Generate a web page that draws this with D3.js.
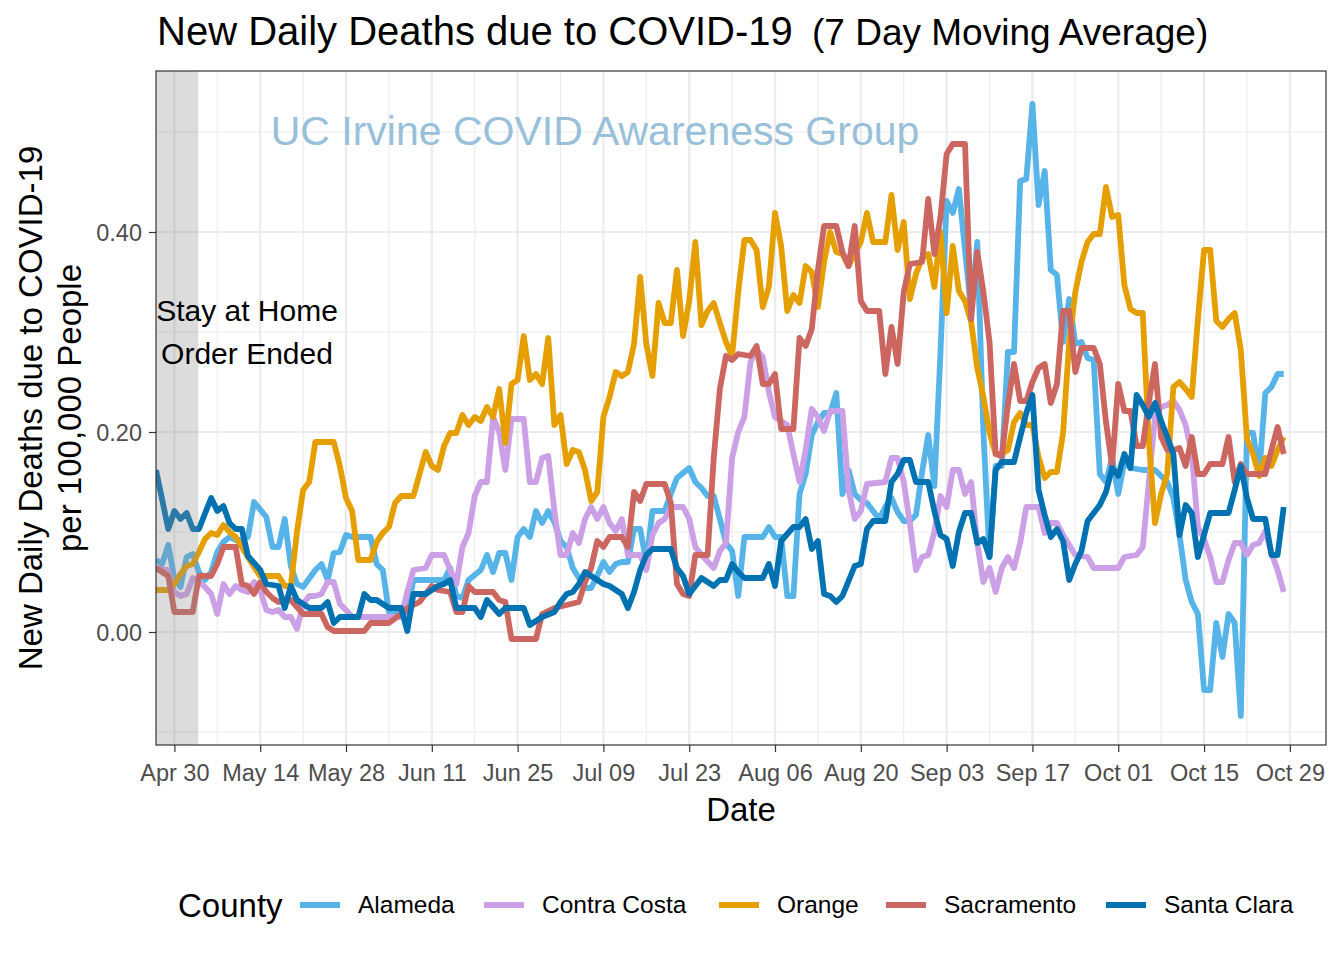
<!DOCTYPE html>
<html><head><meta charset="utf-8">
<script src="https://cdn.jsdelivr.net/npm/d3@7"></script>
<style>body{margin:0;background:#fff;} svg{display:block;font-family:"Liberation Sans",Arial,Helvetica,sans-serif;}</style>
</head><body><svg id="c" width="1344" height="960"></svg>
<script>
// ---------------- DATA ----------------
const baseDate = "2020-04-30"; // day offsets below are days from this date
const counties = ["Alameda","Contra Costa","Orange","Sacramento","Santa Clara"];
const countyColors = ["#56B4E9","#CBA0E6","#E69F00","#CC6660","#0072B2"];
const xTicks = ["2020-04-30","2020-05-14","2020-05-28","2020-06-11","2020-06-25","2020-07-09","2020-07-23",
  "2020-08-06","2020-08-20","2020-09-03","2020-09-17","2020-10-01","2020-10-15","2020-10-29"];
const yTicks = [0, 0.2, 0.4];
const yMinorTicks = [-0.1, 0.1, 0.3, 0.5];
const stayHomeEnd = 3.9; // day offset where the shaded period ends

const alameda = [[-3,.072],[-2,.068],[-1,.087],[0,.053],[1,.045],[2,.075],[3,.078],[4,.060],[5,.052],[6,.060],[7,.080],[8,.090],[9,.095],[10,.092],[11,.092],[12,.095],[13,.130],[15,.115],[16,.085],[17,.085],[18,.113],[19,.066],[20,.048],[21,.045],[23,.062],[24,.068],[25,.052],[26,.079],[27,.080],[28,.097],[29,.095],[30,.095],[32,.095],[33,.068],[34,.062],[35,.020],[37,.018],[38,.020],[39,.052],[44,.052],[45,.064],[46,.036],[47,.034],[48,.052],[50,.062],[51,.077],[52,.060],[53,.079],[54,.079],[55,.052],[56,.095],[57,.103],[58,.095],[59,.121],[60,.109],[61,.121],[62,.110],[63,.091],[64,.085],[65,.064],[67,.044],[68,.044],[69,.056],[70,.070],[71,.060],[72,.068],[73,.070],[74,.070],[75,.103],[76,.103],[77,.070],[78,.121],[80,.121],[81,.138],[82,.154],[84,.164],[85,.150],[86,.144],[87,.136],[88,.136],[89,.113],[90,.089],[91,.081],[92,.036],[93,.095],[96,.095],[97,.105],[98,.095],[99,.095],[100,.036],[101,.036],[102,.138],[103,.158],[104,.197],[105,.210],[106,.219],[107,.219],[108,.239],[109,.138],[110,.162],[111,.138],[112,.132],[113,.129],[115,.113],[116,.125],[117,.134],[118,.120],[119,.111],[120,.111],[121,.117],[122,.160],[123,.197],[124,.146],[125,.280],[126,.431],[127,.419],[128,.443],[129,.382],[130,.321],[131,.390],[132,.200],[133,.075],[134,.166],[135,.166],[136,.280],[137,.280],[138,.451],[139,.453],[140,.528],[141,.427],[142,.461],[143,.362],[144,.357],[145,.290],[146,.333],[147,.288],[148,.290],[149,.274],[150,.272],[151,.158],[152,.150],[153,.174],[154,.138],[155,.170],[156,.164],[158,.162],[160,.162],[162,.150],[163,.134],[164,.097],[165,.052],[166,.030],[167,.018],[168,-.058],[169,-.058],[170,.009],[171,-.025],[172,.018],[173,.009],[174,-.084],[175,.199],[176,.199],[177,.158],[178,.239],[179,.245],[180,.258],[181,.258]];

const contraCosta = [[-3,.064],[-1,.062],[0,.040],[1,.036],[2,.038],[3,.054],[4,.050],[5,.045],[6,.038],[7,.018],[8,.048],[9,.038],[10,.046],[11,.042],[12,.040],[13,.050],[14,.042],[15,.022],[16,.020],[17,.022],[18,.015],[19,.015],[20,.003],[21,.028],[22,.036],[23,.036],[24,.038],[25,.050],[26,.050],[27,.028],[28,.022],[29,.015],[37,.015],[38,.040],[39,.062],[41,.064],[42,.077],[44,.077],[45,.062],[46,.048],[47,.085],[48,.099],[49,.136],[50,.150],[51,.150],[52,.215],[53,.200],[54,.162],[55,.213],[57,.213],[58,.150],[59,.150],[60,.174],[61,.176],[62,.121],[63,.077],[64,.077],[65,.099],[66,.089],[67,.113],[68,.125],[69,.113],[70,.125],[71,.109],[72,.101],[73,.113],[74,.077],[76,.077],[77,.062],[78,.097],[79,.109],[80,.113],[81,.125],[83,.125],[84,.113],[85,.085],[86,.077],[88,.064],[89,.081],[90,.089],[91,.174],[92,.200],[93,.215],[94,.270],[95,.282],[96,.275],[97,.240],[98,.215],[100,.207],[101,.178],[102,.150],[103,.182],[104,.223],[105,.215],[106,.201],[107,.221],[109,.221],[110,.142],[111,.113],[112,.121],[113,.148],[116,.150],[117,.174],[118,.174],[119,.150],[120,.109],[121,.062],[122,.075],[123,.077],[124,.100],[125,.136],[126,.125],[127,.162],[128,.162],[129,.138],[130,.150],[131,.089],[132,.050],[133,.064],[134,.040],[135,.064],[136,.075],[137,.064],[138,.089],[139,.125],[141,.125],[142,.099],[143,.109],[144,.109],[145,.097],[147,.077],[149,.075],[150,.064],[154,.064],[155,.075],[157,.077],[158,.085],[159,.150],[160,.215],[161,.225],[162,.227],[163,.231],[164,.222],[165,.207],[166,.178],[167,.105],[168,.093],[169,.075],[170,.050],[171,.050],[172,.072],[173,.089],[174,.089],[175,.077],[176,.087],[177,.089],[178,.101],[179,.079],[180,.062],[181,.040]];

const orange = [[-3,.042],[-1,.042],[0,.048],[1,.058],[2,.066],[3,.068],[4,.080],[5,.093],[6,.099],[7,.097],[8,.107],[9,.100],[10,.095],[11,.085],[12,.075],[13,.065],[14,.056],[17,.056],[18,.046],[19,.046],[20,.100],[21,.142],[22,.150],[23,.190],[26,.190],[27,.166],[28,.134],[29,.121],[30,.072],[32,.072],[33,.090],[34,.099],[35,.105],[36,.129],[37,.136],[39,.136],[41,.180],[42,.166],[43,.162],[44,.186],[45,.199],[46,.199],[47,.217],[48,.207],[49,.215],[50,.211],[51,.225],[52,.215],[53,.243],[54,.189],[55,.248],[56,.252],[57,.296],[58,.252],[59,.258],[60,.248],[61,.294],[62,.207],[63,.217],[64,.168],[65,.182],[66,.180],[67,.162],[68,.131],[69,.140],[70,.215],[71,.235],[72,.260],[73,.256],[74,.260],[75,.288],[76,.355],[77,.288],[78,.256],[79,.329],[80,.309],[81,.309],[82,.362],[83,.296],[84,.331],[85,.390],[86,.307],[87,.321],[88,.329],[89,.309],[90,.290],[91,.276],[92,.340],[93,.392],[94,.392],[95,.382],[96,.325],[97,.345],[98,.419],[99,.386],[100,.321],[101,.337],[102,.329],[103,.366],[104,.360],[105,.325],[106,.370],[107,.400],[108,.380],[109,.378],[110,.366],[111,.378],[112,.390],[113,.419],[114,.390],[116,.390],[117,.437],[118,.382],[119,.410],[120,.333],[121,.358],[122,.374],[123,.378],[124,.345],[125,.400],[126,.319],[127,.386],[128,.341],[129,.331],[130,.310],[131,.264],[132,.235],[133,.199],[134,.178],[135,.178],[136,.182],[137,.210],[138,.219],[139,.207],[140,.207],[141,.175],[142,.154],[143,.160],[144,.160],[145,.199],[146,.290],[147,.340],[148,.370],[149,.390],[150,.398],[151,.398],[152,.445],[153,.415],[154,.417],[155,.347],[156,.323],[157,.319],[158,.319],[159,.191],[160,.109],[161,.138],[162,.158],[163,.245],[164,.250],[165,.243],[166,.235],[167,.313],[168,.382],[169,.382],[170,.311],[171,.305],[172,.313],[173,.319],[174,.282],[175,.193],[176,.178],[177,.156],[178,.174],[179,.166],[180,.182],[181,.195]];

const sacramento = [[-3,.064],[-1,.056],[0,.020],[3,.020],[4,.056],[6,.056],[7,.068],[8,.085],[10,.085],[11,.048],[12,.046],[13,.038],[14,.050],[15,.040],[16,.034],[17,.030],[19,.032],[20,.025],[21,.018],[24,.018],[25,.005],[26,.001],[31,.001],[32,.009],[35,.009],[37,.018],[38,.024],[40,.030],[42,.046],[43,.042],[45,.040],[46,.020],[47,.020],[48,.046],[49,.040],[52,.040],[53,.032],[54,.030],[55,-.007],[59,-.007],[60,.018],[62,.024],[66,.030],[67,.050],[68,.064],[69,.091],[70,.085],[71,.095],[73,.095],[74,.085],[75,.140],[76,.131],[77,.148],[80,.148],[81,.129],[82,.048],[83,.038],[84,.036],[85,.077],[87,.077],[88,.174],[89,.243],[90,.276],[91,.272],[92,.278],[94,.276],[95,.286],[96,.248],[97,.248],[98,.258],[99,.203],[101,.203],[102,.294],[103,.286],[104,.303],[105,.362],[106,.406],[108,.406],[109,.380],[110,.366],[111,.406],[112,.331],[113,.321],[115,.321],[116,.258],[117,.305],[118,.268],[119,.340],[120,.368],[122,.370],[123,.433],[124,.378],[125,.415],[126,.478],[127,.488],[129,.488],[130,.313],[131,.380],[132,.340],[133,.290],[134,.178],[135,.176],[136,.227],[137,.268],[138,.231],[139,.231],[140,.250],[141,.264],[142,.268],[143,.229],[144,.248],[145,.321],[146,.321],[147,.260],[148,.284],[150,.284],[151,.268],[152,.210],[153,.166],[154,.248],[155,.221],[156,.221],[157,.186],[158,.186],[159,.230],[160,.268],[161,.195],[162,.182],[163,.182],[164,.184],[165,.166],[166,.195],[167,.158],[168,.158],[169,.168],[171,.168],[172,.195],[173,.150],[174,.168],[175,.158],[178,.158],[179,.182],[180,.205],[181,.178]];

const santaClara = [[-3,.162],[-1,.103],[0,.121],[1,.113],[2,.119],[3,.103],[4,.103],[6,.134],[7,.121],[8,.126],[9,.109],[10,.103],[11,.103],[12,.076],[14,.062],[15,.048],[17,.046],[18,.024],[19,.046],[20,.032],[22,.024],[24,.024],[25,.030],[26,.009],[27,.015],[30,.015],[31,.038],[32,.032],[33,.032],[35,.024],[37,.024],[38,.001],[39,.038],[41,.038],[43,.046],[44,.048],[45,.052],[46,.024],[49,.024],[50,.015],[51,.032],[52,.025],[53,.018],[54,.024],[57,.024],[58,.007],[59,.011],[60,.015],[62,.020],[63,.030],[64,.038],[65,.040],[66,.048],[67,.060],[68,.056],[69,.052],[70,.048],[71,.046],[73,.038],[74,.024],[75,.040],[76,.062],[77,.077],[78,.083],[81,.083],[82,.064],[83,.056],[84,.038],[85,.046],[86,.054],[88,.046],[89,.052],[90,.052],[91,.068],[92,.060],[93,.054],[96,.054],[97,.068],[98,.046],[99,.091],[101,.105],[102,.105],[103,.113],[104,.083],[105,.091],[106,.038],[107,.036],[108,.030],[109,.036],[111,.066],[112,.068],[113,.103],[114,.111],[116,.111],[117,.150],[118,.158],[119,.172],[120,.172],[121,.150],[123,.150],[124,.121],[125,.097],[126,.093],[127,.066],[128,.100],[129,.119],[130,.119],[131,.089],[132,.093],[133,.075],[134,.162],[135,.170],[137,.170],[138,.195],[139,.219],[140,.237],[141,.142],[142,.117],[143,.095],[144,.103],[145,.091],[146,.052],[147,.068],[148,.081],[149,.111],[150,.119],[151,.127],[152,.140],[153,.164],[154,.156],[155,.178],[156,.164],[157,.237],[158,.227],[159,.215],[160,.229],[161,.211],[162,.195],[163,.178],[164,.097],[165,.127],[166,.119],[167,.075],[168,.097],[169,.119],[172,.119],[173,.142],[174,.166],[175,.134],[176,.113],[178,.113],[179,.077],[180,.077],[181,.125]];

const seriesData = [alameda, contraCosta, orange, sacramento, santaClara];

// ---------------- CHART ----------------
const svg = d3.select("#c");
const P = {left:156, right:1326, top:71, bottom:745};
const parse = d3.utcParse("%Y-%m-%d");
const base = parse(baseDate);
const dayMs = 864e5;
const toDate = d => new Date(base.getTime() + d*dayMs);

const x = d3.scaleUtc().domain([toDate(-3), toDate(187.9)]).range([P.left, P.right]);
const y = d3.scaleLinear().domain([-0.113, 0.561]).range([P.bottom, P.top]);

const grid = "#EBEBEB";
svg.append("rect").attr("width",1344).attr("height",960).attr("fill","#fff");

svg.append("clipPath").attr("id","pc").append("rect")
  .attr("x",P.left).attr("y",P.top).attr("width",P.right-P.left).attr("height",P.bottom-P.top);

const panel = svg.append("g").attr("clip-path","url(#pc)");
const xTickDates = xTicks.map(parse);
const xMinor = xTickDates.map(d => d3.utcDay.offset(d, 7)).concat([d3.utcDay.offset(xTickDates[0], -7)])
  .filter(d => d >= x.domain()[0] && d <= x.domain()[1]);

panel.selectAll(".ymin").data(yMinorTicks).join("line")
  .attr("x1",P.left).attr("x2",P.right).attr("y1",d=>y(d)).attr("y2",d=>y(d))
  .attr("stroke",grid).attr("stroke-width",1.1);
panel.selectAll(".xmin").data(xMinor).join("line")
  .attr("y1",P.top).attr("y2",P.bottom).attr("x1",d=>x(d)).attr("x2",d=>x(d))
  .attr("stroke",grid).attr("stroke-width",1.1);
panel.selectAll(".ymaj").data(yTicks).join("line")
  .attr("x1",P.left).attr("x2",P.right).attr("y1",d=>y(d)).attr("y2",d=>y(d))
  .attr("stroke",grid).attr("stroke-width",2.2);
panel.selectAll(".xmaj").data(xTickDates).join("line")
  .attr("y1",P.top).attr("y2",P.bottom).attr("x1",d=>x(d)).attr("x2",d=>x(d))
  .attr("stroke",grid).attr("stroke-width",2.2);

const line = d3.line().x(d => x(toDate(d[0]))).y(d => y(d[1]));
panel.selectAll(".series").data(seriesData).join("path")
  .attr("d", line).attr("fill","none")
  .attr("stroke",(d,i)=>countyColors[i]).attr("stroke-width",5.8)
  .attr("stroke-linejoin","round").attr("stroke-linecap","butt");

// shaded stay-at-home period (drawn over the lines like ggplot's annotate)
panel.append("rect")
  .attr("x", x(toDate(-3))).attr("width", x(toDate(stayHomeEnd)) - x(toDate(-3)))
  .attr("y", P.top).attr("height", P.bottom-P.top)
  .attr("fill","#8c8c8c").attr("opacity",0.3);

// annotations
panel.append("text").attr("x",595).attr("y",145).attr("text-anchor","middle")
  .attr("font-size",41).attr("fill","#98C0DA").text("UC Irvine COVID Awareness Group");
const ann = panel.append("text").attr("text-anchor","middle").attr("font-size",30).attr("fill","#000");
ann.append("tspan").attr("x",247).attr("y",321).text("Stay at Home");
ann.append("tspan").attr("x",247).attr("y",364).text("Order Ended");

// panel border
svg.append("rect").attr("x",P.left).attr("y",P.top).attr("width",P.right-P.left).attr("height",P.bottom-P.top)
  .attr("fill","none").attr("stroke","#333").attr("stroke-width",1.2);

// axes
const xAxis = svg.append("g").attr("transform",`translate(0,${P.bottom})`)
  .call(d3.axisBottom(x).tickValues(xTickDates).tickFormat(d3.utcFormat("%b %d")).tickSize(7).tickPadding(12));
const yAxis = svg.append("g").attr("transform",`translate(${P.left},0)`)
  .call(d3.axisLeft(y).tickValues(yTicks).tickFormat(d3.format(".2f")).tickSize(7).tickPadding(7));
[xAxis,yAxis].forEach(a => {
  a.select(".domain").remove();
  a.selectAll(".tick line").attr("stroke","#333").attr("stroke-width",1.2);
  a.selectAll(".tick text").attr("fill","#4D4D4D").attr("font-size",23.5)
    .attr("font-family",'"Liberation Sans",Arial,sans-serif');
});
xAxis.selectAll(".tick text").attr("dy","0.71em");
yAxis.selectAll(".tick text").attr("dy","0.34em");

// titles
const title = svg.append("text").attr("y",45).attr("fill","#000");
title.append("tspan").attr("x",157).attr("font-size",40).text("New Daily Deaths due to COVID-19");
title.append("tspan").attr("x",812).attr("font-size",37).text("(7 Day Moving Average)");
svg.append("text").attr("x",(P.left+P.right)/2).attr("y",821).attr("text-anchor","middle")
  .attr("font-size",33).text("Date");
const yt = svg.append("text").attr("transform",`translate(0,${(P.top+P.bottom)/2}) rotate(-90)`)
  .attr("text-anchor","middle").attr("font-size",33);
yt.append("tspan").attr("x",0).attr("y",42).text("New Daily Deaths due to COVID-19");
yt.append("tspan").attr("x",0).attr("y",81).text("per 100,000 People");

// legend
const lg = svg.append("g");
lg.append("text").attr("x",178).attr("y",917).attr("font-size",33).text("County");
const keyX = [300, 484, 719, 886, 1106];
counties.forEach((c,i) => {
  lg.append("line").attr("x1",keyX[i]).attr("x2",keyX[i]+40).attr("y1",905).attr("y2",905)
    .attr("stroke",countyColors[i]).attr("stroke-width",5.8);
  lg.append("text").attr("x",keyX[i]+58).attr("y",913).attr("font-size",24.5).text(c);
});
</script></body></html>
